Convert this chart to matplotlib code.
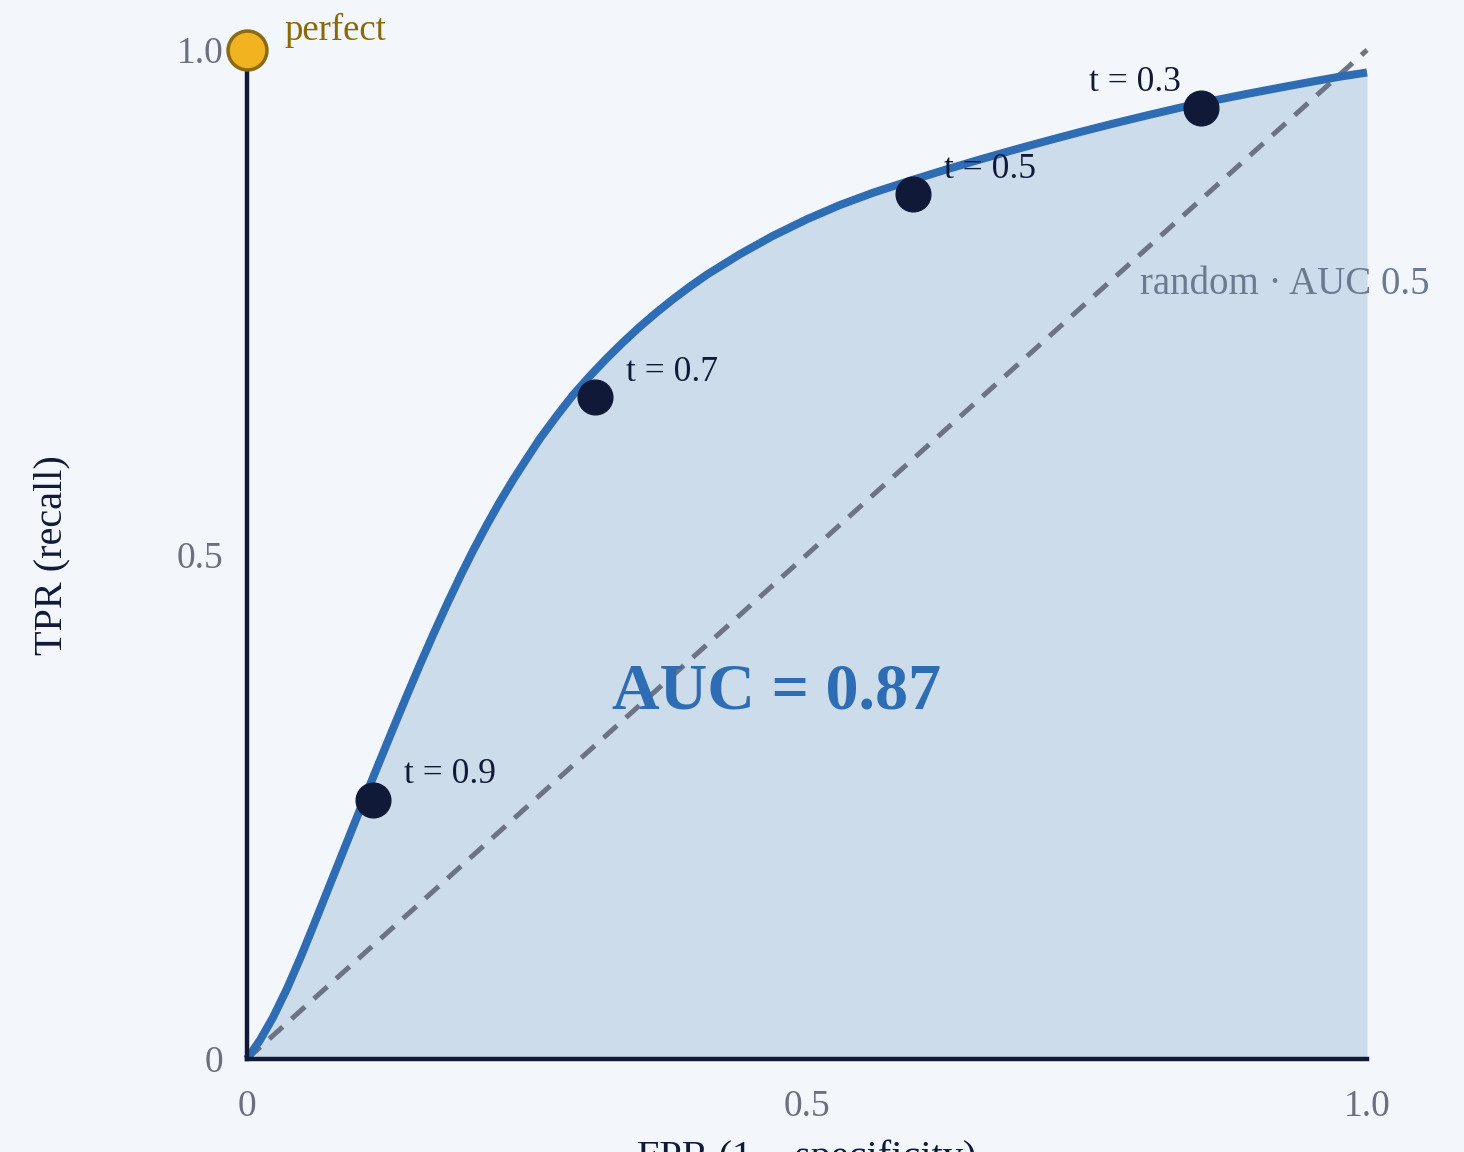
import matplotlib.pyplot as plt

# ROC curve samples (FPR, TPR)
fpr = [0.0, 0.0116, 0.0232, 0.0357, 0.0473, 0.0589, 0.0714, 0.0830, 0.0946, 0.1071,
       0.1188, 0.1304, 0.1429, 0.1545, 0.1661, 0.1786, 0.1902, 0.2018, 0.2143, 0.2259,
       0.2375, 0.2500, 0.2616, 0.2768, 0.2911, 0.3063, 0.3214, 0.3357, 0.3509, 0.3661,
       0.3804, 0.3955, 0.4107, 0.4402, 0.4696, 0.5000, 0.5295, 0.5589, 0.5946, 0.6250,
       0.6545, 0.6839, 0.7143, 0.7438, 0.7732, 0.8036, 0.8330, 0.8509, 0.8929, 0.9223,
       0.9518, 0.9759, 1.0]
tpr = [0.0, 0.0187, 0.0412, 0.0697, 0.0993, 0.1308, 0.1655, 0.1977, 0.2299, 0.2643,
       0.2960, 0.3274, 0.3607, 0.3910, 0.4203, 0.4508, 0.4779, 0.5037, 0.5297, 0.5525,
       0.5739, 0.5954, 0.6150, 0.6378, 0.6581, 0.6771, 0.6947, 0.7103, 0.7259, 0.7403,
       0.7530, 0.7656, 0.7774, 0.7977, 0.8158, 0.8323, 0.8464, 0.8585, 0.8714, 0.8818,
       0.8915, 0.9008, 0.9100, 0.9187, 0.9270, 0.9352, 0.9428, 0.9472, 0.9565, 0.9627,
       0.9688, 0.9736, 0.9777]

# threshold markers
thresholds = ['t = 0.9', 't = 0.7', 't = 0.5', 't = 0.3']
thr_fpr = [0.1125, 0.311, 0.595, 0.852]
thr_tpr = [0.257, 0.656, 0.857, 0.943]

auc_value = 0.87

bg = '#f3f6fb'
navy = '#101a38'
blue = '#2e6db4'

plt.rcParams['font.family'] = ['Liberation Serif', 'DejaVu Serif']

fig = plt.figure(figsize=(14.64, 11.52), dpi=100, facecolor=bg)
ax = fig.add_axes([247 / 1464, 1 - 1059 / 1152, 1120 / 1464, 1009 / 1152])
ax.set_facecolor(bg)
ax.set_xlim(0, 1)
ax.set_ylim(0, 1)

# area under the curve
ax.fill_between(fpr, tpr, 0, color='#cddcea', linewidth=0, zorder=1)

# random classifier diagonal
ax.plot([0, 1], [0, 1], color='#6b7385', linewidth=3.6, dashes=(3.6, 2.4),
        zorder=2, clip_on=False)

# ROC curve
ax.plot(fpr, tpr, color=blue, linewidth=5.8, solid_capstyle='butt', solid_joinstyle='round',
        zorder=3, clip_on=False)

# threshold points and labels
ax.plot(thr_fpr, thr_tpr, 'o', color=navy, markersize=25, zorder=4, clip_on=False)
for i, label in enumerate(thresholds):
    if i == len(thresholds) - 1:
        ax.annotate(label, (thr_fpr[i], thr_tpr[i]), xytext=(-15, 18), textcoords='offset points',
                    ha='right', va='center', fontsize=25.5, color=navy, zorder=5)
    else:
        ax.annotate(label, (thr_fpr[i], thr_tpr[i]), xytext=(22, 18), textcoords='offset points',
                    ha='left', va='center', fontsize=25.5, color=navy, zorder=5)

# perfect classifier point
ax.plot([0], [1], 'o', markersize=28, markerfacecolor='#f2b320', markeredgecolor='#8a6a12',
        markeredgewidth=2.5, zorder=6, clip_on=False)
ax.annotate('perfect', (0, 1), xytext=(27, 14), textcoords='offset points',
            ha='left', va='center', fontsize=26.5, color='#8a6a08')

# annotations
ax.text(0.473, 0.363, f'AUC = {auc_value}', ha='center', va='center', fontsize=47.5,
        fontweight='bold', color=blue, zorder=5)
ax.text(0.797, 0.768, 'random · AUC 0.5', ha='left', va='center', fontsize=28,
        color='#6b7a90', zorder=5)

# axes styling
for side in ['top', 'right']:
    ax.spines[side].set_visible(False)
for side in ['left', 'bottom']:
    ax.spines[side].set_color(navy)
    ax.spines[side].set_linewidth(3.2)
    ax.spines[side].set_zorder(4)

ax.set_xticks([0, 0.5, 1.0])
ax.set_xticklabels(['0', '0.5', '1.0'])
ax.set_yticks([0, 0.5, 1.0])
ax.set_yticklabels(['0', '0.5', '1.0'])
ax.tick_params(axis='x', length=0, pad=22, labelsize=27, labelcolor='#6b7080')
ax.tick_params(axis='y', length=0, pad=17, labelsize=27, labelcolor='#6b7080')

fig.text(52 / 1464, 1 - 555 / 1152, 'TPR (recall)', rotation=90, ha='center', va='center',
         fontsize=29, color=navy)
fig.text(807 / 1464, 1 - 1139 / 1152, 'FPR (1 − specificity)', ha='center', va='top',
         fontsize=29, color=navy)

fig.savefig('out.png', dpi=100, facecolor=bg)
